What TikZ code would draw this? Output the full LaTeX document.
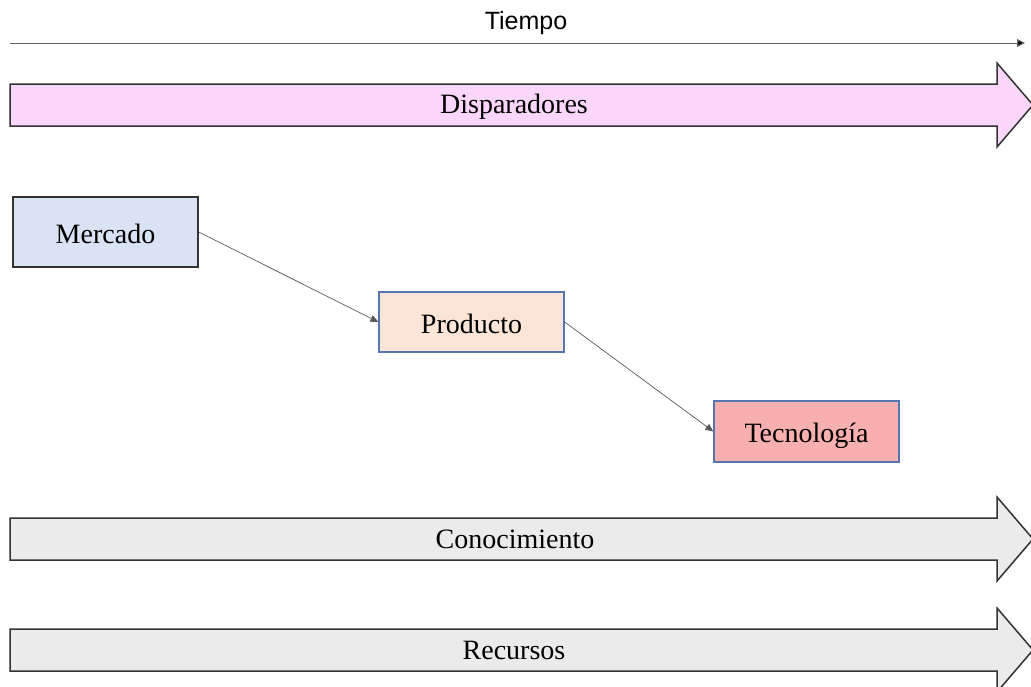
\documentclass[tikz,border=0pt]{standalone}
\usepackage{fontspec}
\setmainfont{Liberation Serif}
\newfontfamily\tiemposans{Liberation Sans}
\usetikzlibrary{arrows.meta}

\definecolor{dispfill}{HTML}{FAD6FA}
\definecolor{grisfill}{HTML}{EBEBEB}
\definecolor{mercfill}{HTML}{DAE3F3}
\definecolor{prodfill}{HTML}{FBE5D6}
\definecolor{tecfill}{HTML}{F8AFAF}
\definecolor{bordeazul}{HTML}{5676B3}
\definecolor{bordegris}{HTML}{333333}

\begin{document}
\begin{tikzpicture}[x=1pt,y=-1pt,
    bigarrow/.style={draw=bordegris, line width=1.5pt, line join=miter},
    etapa/.style={draw=bordeazul, line width=1.3pt, minimum width=185pt, inner sep=0pt},
    flujo/.style={draw=black!65, line width=0.7pt, -{Triangle[length=8pt,width=7pt]}},
    rotulo/.style={font=\fontsize{28}{30}\selectfont, text height=24pt, text depth=2pt}]
  \useasboundingbox (0,0) rectangle (1031,686);

  % eje del tiempo
  \node[font=\tiemposans\fontsize{25}{27}\selectfont] (tiempo) at (526,23) {Tiempo};
  \coordinate (t0) at (10,43);
  \coordinate (t1) at (1025,43);
  \draw[line width=1pt, black!60, -{Triangle[length=8pt,width=8pt,fill=black]}] (t0) -- (t1);

  % flechas grandes
  \draw[bigarrow, fill=dispfill] (10,84) -- (997,84) -- (997,63) -- (1033,105)
    -- (997,147) -- (997,126) -- (10,126) -- cycle;
  \node[rotulo] (disp) at (514,102) {Disparadores};

  \draw[bigarrow, fill=grisfill] (10,518) -- (997,518) -- (997,497) -- (1033,539)
    -- (997,581) -- (997,560) -- (10,560) -- cycle;
  \node[rotulo] (conoc) at (515,537) {Conocimiento};

  \draw[bigarrow, fill=grisfill] (10,629) -- (997,629) -- (997,608) -- (1033,650)
    -- (997,692) -- (997,671) -- (10,671) -- cycle;
  \node[rotulo] (recur) at (514,648) {Recursos};

  % etapas
  \node[etapa, rotulo, draw=bordegris, fill=mercfill, minimum height=70pt] (mercado) at (105.5,232) {Mercado};
  \node[etapa, rotulo, fill=prodfill, minimum height=60pt] (producto) at (471.5,322) {Producto};
  \node[etapa, rotulo, fill=tecfill, minimum height=61pt] (tecno) at (806.5,431.5) {Tecnología};

  \draw[flujo] (mercado.east) -- (producto.west);
  \draw[flujo] (producto.east) -- (tecno.west);
\end{tikzpicture}
\end{document}
